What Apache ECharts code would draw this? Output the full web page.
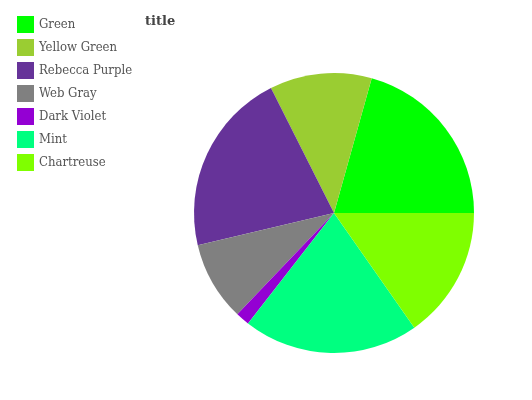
<!DOCTYPE html>
<html><head><meta charset="utf-8">
<script src="https://cdn.jsdelivr.net/npm/echarts@6/dist/echarts.min.js"></script>
<style>html,body{margin:0;padding:0;background:#fff}#c{width:532px;height:400px}</style>
</head><body><div id="c"></div>
<script>
const categories = ["Green","Yellow Green","Rebecca Purple","Web Gray","Dark Violet","Mint","Chartreuse"];
const values = [20.7, 11.8, 21.3, 9.2, 1.6, 20.3, 15.3];
const colors = ["#00ff00","#9acd32","#663399","#808080","#9400d3","#00ff80","#7fff00"];
const chart = echarts.init(document.getElementById('c'), null, {renderer:'canvas'});
chart.setOption({
  animation:false,
  title:{text:'title', left:140, top:10, textStyle:{fontFamily:'DejaVu Serif', fontWeight:'bold', fontSize:13, color:'#444'}},
  legend:{orient:'vertical', left:12, top:11, itemWidth:17, itemHeight:17, itemGap:6, icon:'rect',
    textStyle:{fontFamily:'DejaVu Serif Condensed', fontSize:13, color:'#555'}, data:categories},
  series:[{type:'pie', center:[334,213], radius:[0,140], startAngle:0, clockwise:false,
    label:{show:false}, labelLine:{show:false}, itemStyle:{borderWidth:0},
    data:categories.map((n,i)=>({name:n, value:values[i], itemStyle:{color:colors[i]}}))}]
});
</script></body></html>
